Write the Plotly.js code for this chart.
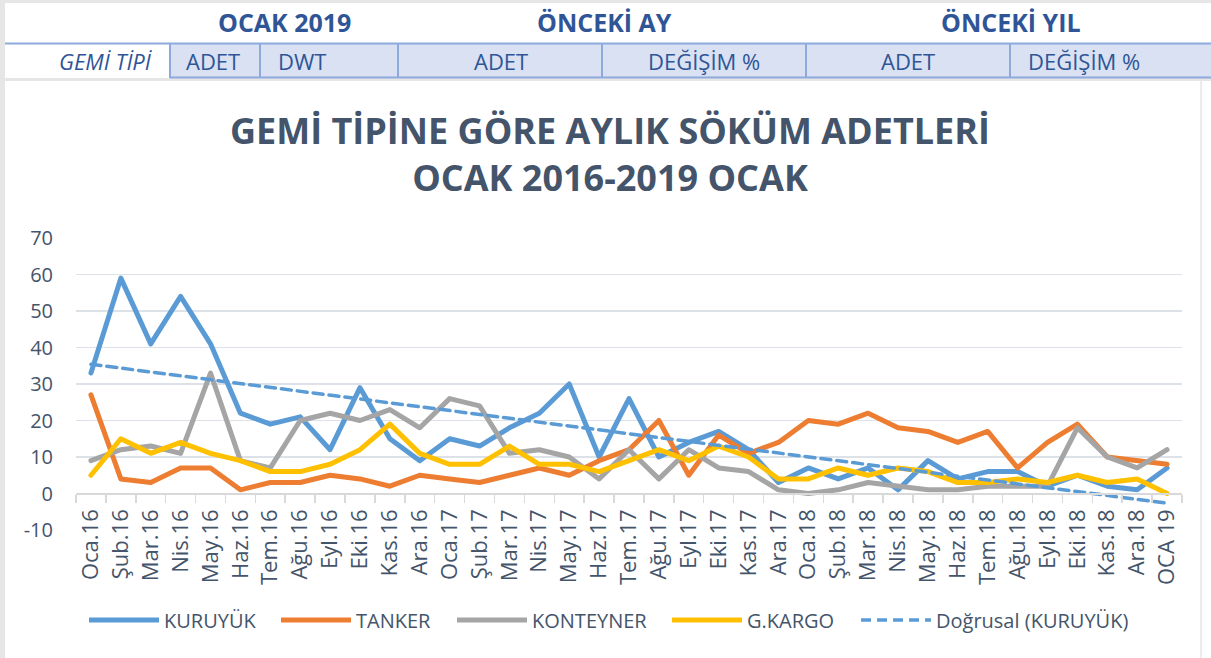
<!DOCTYPE html>
<html>
<head>
<meta charset="utf-8">
<script src="https://cdn.plot.ly/plotly-3.0.1.min.js"></script>
<style>
  html, body { margin: 0; padding: 0; background: #ffffff; }
  #chart { width: 1211px; height: 658px; }
  .scatterlayer .js-line { stroke-linejoin: round; stroke-linecap: round; }
</style>
</head>
<body>
<div id="chart"></div>
<script>
// ---------- DATA ----------
const categories = ['Oca.16','Şub.16','Mar.16','Nis.16','May.16','Haz.16','Tem.16','Ağu.16','Eyl.16','Eki.16','Kas.16','Ara.16',
                    'Oca.17','Şub.17','Mar.17','Nis.17','May.17','Haz.17','Tem.17','Ağu.17','Eyl.17','Eki.17','Kas.17','Ara.17',
                    'Oca.18','Şub.18','Mar.18','Nis.18','May.18','Haz.18','Tem.18','Ağu.18','Eyl.18','Eki.18','Kas.18','Ara.18','OCA 19'];
const kuruyuk   = [33,59,41,54,41,22,19,21,12,29,15,9, 15,13,18,22,30,10,26,10,14,17,12,3, 7,4,7,1,9,4,6,6,2,5,2,1,7];
const tanker    = [27,4,3,7,7,1,3,3,5,4,2,5, 4,3,5,7,5,9,12,20,5,16,11,14, 20,19,22,18,17,14,17,7,14,19,10,9,8];
const konteyner = [9,12,13,11,33,9,7,20,22,20,23,18, 26,24,11,12,10,4,12,4,12,7,6,1, 0,1,3,2,1,1,2,2,2,18,10,7,12];
const gkargo    = [5,15,11,14,11,9,6,6,8,12,19,11, 8,8,13,8,8,6,9,12,9,13,10,4, 4,7,5,7,6,3,3,4,3,5,3,4,0];
const seriesNames = ['KURUYÜK','TANKER','KONTEYNER','G.KARGO','Doğrusal (KURUYÜK)'];
const yTicks = [-10,0,10,20,30,40,50,60,70];
const yTickLabels = ['-10','0','10','20','30','40','50','60','70'];
const chartTitle = 'GEMİ TİPİNE GÖRE AYLIK SÖKÜM ADETLERİ<br>OCAK 2016-2019 OCAK';
const headerRow1 = ['OCAK 2019','ÖNCEKİ AY','ÖNCEKİ YIL'];
const headerRow2 = ['GEMİ TİPİ','ADET','DWT','ADET','DEĞİŞİM %','ADET','DEĞİŞİM %'];

// linear trendline (least squares) of KURUYÜK
const n = kuruyuk.length;
let sx=0, sy=0, sxx=0, sxy=0;
for (let i=0;i<n;i++){ sx+=i; sy+=kuruyuk[i]; sxx+=i*i; sxy+=i*kuruyuk[i]; }
const slope = (n*sxy - sx*sy)/(n*sxx - sx*sx);
const intercept = (sy - slope*sx)/n;
const trend = categories.map((c,i)=> intercept + slope*i);

// ---------- LAYOUT GEOMETRY ----------
const W = 1211, H = 658;
const M = {l:76, r:29, t:238, b:128};
const PW = W - M.l - M.r, PH = H - M.t - M.b;
const px = x => (x - M.l)/PW;
const py = y => (H - M.b - y)/PH;

const FONT = 'Open Sans, sans-serif';
const TXT = '#44546A';
const HBLUE = '#2F5597';
const BORDER = '#8EA9DB';

const colors = ['#5B9BD5','#ED7D31','#A5A5A5','#FFC000'];
const series = [kuruyuk, tanker, konteyner, gkargo];
const legendIds = ['legend','legend2','legend3','legend4','legend5'];
const legendTextX = [165, 357, 533, 748, 937];

const traces = series.map((s,k)=>({
  type:'scatter', mode:'lines', x:categories, y:s, name:seriesNames[k], legend:legendIds[k],
  line:{color:colors[k], width:5}, hoverinfo:'skip'
}));
traces.push({
  type:'scatter', mode:'lines', x:categories, y:trend, name:seriesNames[4], legend:legendIds[4],
  line:{color:'#5B9BD5', width:3.5, dash:'10px,6px'}, hoverinfo:'skip'
});

const shapes = [];
function rect(x0,y0,x1,y1,fill){ shapes.push({type:'rect',xref:'paper',yref:'paper',x0:px(x0),x1:px(x1),y0:py(y0),y1:py(y1),fillcolor:fill,line:{width:0},layer:'below'}); }
function line(x0,y0,x1,y1,color,w){ shapes.push({type:'line',xref:'paper',yref:'paper',x0:px(x0),x1:px(x1),y0:py(y0),y1:py(y1),line:{color:color,width:w},layer:'above'}); }

// page background strips
rect(0,0,W,3,'#E7E6E6');
rect(0,0,5,H,'#E7E6E6');
rect(5,78,W,81,'#E7E6E6');
line(1201,81,1201,H,'#E7E6E6',1.5);
// header row 2
rect(170,43,W,78,'#D9E1F2');
line(5,43.5,W,43.5,BORDER,2);
line(170,77.5,W,77.5,BORDER,2);
[170,260,398,602,806,1010].forEach(x=> line(x,43,x,78,BORDER,2));

const annotations = [];
function ann(text,x,y,size,opts){
  annotations.push(Object.assign({text:text,xref:'paper',yref:'paper',x:px(x),y:py(y),showarrow:false,
    xanchor:'center',yanchor:'middle',font:{family:FONT,size:size,color:HBLUE}},opts||{}));
}
const r1y = 21.5, r2y = 60.5;
ann(headerRow1[0],284,r1y,25,{font:{family:FONT,size:25,color:HBLUE,weight:'bold'}});
ann(headerRow1[1],604,r1y,25,{font:{family:FONT,size:25,color:HBLUE,weight:'bold'}});
ann(headerRow1[2],1011,r1y,25,{font:{family:FONT,size:25,color:HBLUE,weight:'bold'}});
ann(headerRow2[0],154,r2y,22,{xanchor:'right',font:{family:FONT,size:22,color:HBLUE,style:'italic'}});
ann(headerRow2[1],213,r2y,22);
ann(headerRow2[2],276,r2y,22,{xanchor:'left'});
ann(headerRow2[3],501,r2y,22);
ann(headerRow2[4],704,r2y,22);
ann(headerRow2[5],908,r2y,22);
ann(headerRow2[6],1084,r2y,22);

const layout = {
  width:W, height:H,
  margin:M,
  paper_bgcolor:'#ffffff', plot_bgcolor:'#ffffff',
  font:{family:FONT, color:TXT},
  title:{text:chartTitle, x:610/W, xref:'container', xanchor:'center', y:1-144/H, yref:'container', yanchor:'middle',
         font:{family:FONT, size:36, weight:'bold', color:TXT}},
  xaxis:{type:'category', range:[-0.5, categories.length-0.5], anchor:'free', position:10/80,
         showgrid:false, showline:true, linecolor:'#D9D9D9', linewidth:2,
         ticks:'outside', tickson:'boundaries', ticklen:8, tickwidth:1.5, tickcolor:'#D9D9D9',
         ticklabelstandoff:6,
         tickangle:-90, tickfont:{family:FONT, size:22, color:TXT}, fixedrange:true},
  yaxis:{range:[-10,70], tickvals:yTicks, ticktext:yTickLabels, showgrid:true, gridcolor:'#DDE1E8', gridwidth:1.5,
         zeroline:false, showline:false, ticks:'', ticklabelstandoff:22,
         tickfont:{family:FONT, size:20, color:TXT}, fixedrange:true},
  showlegend:true,
  shapes:shapes, annotations:annotations
};
legendIds.forEach((id,k)=>{
  layout[id] = {orientation:'h', x:px(legendTextX[k]-81), xanchor:'left', y:py(620), yanchor:'middle',
                font:{family:FONT, size:20, color:TXT}, itemwidth:70, bgcolor:'rgba(0,0,0,0)'};
});

Plotly.newPlot('chart', traces, layout, {displayModeBar:false, staticPlot:true});
</script>
</body>
</html>
